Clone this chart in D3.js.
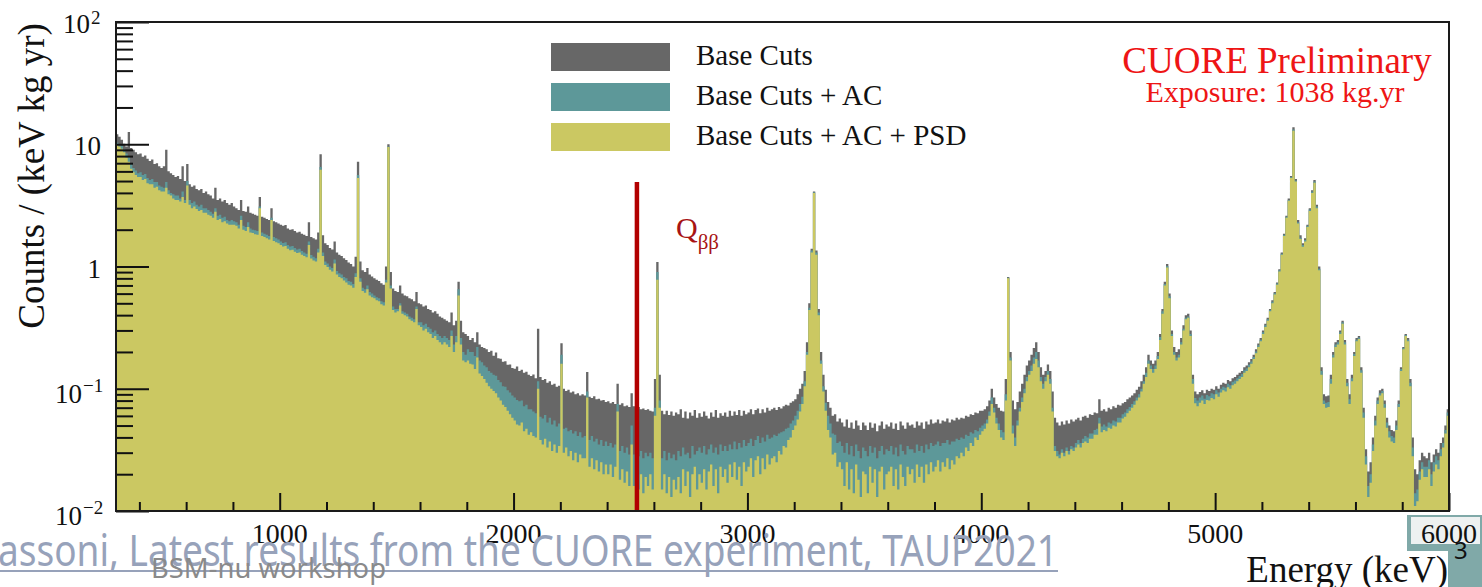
<!DOCTYPE html>
<html>
<head>
<meta charset="utf-8">
<script src="https://cdn.jsdelivr.net/npm/d3@7"></script>
<style>
  html, body { margin: 0; padding: 0; background: #ffffff; }
  svg { display: block; }
</style>
</head>
<body>
<svg id="chart" width="1482" height="587"></svg>
<script>
// Energy binning of the spectra (keV)
const ENERGY_MIN = 300;
const ENERGY_MAX = 6000;
const BIN_WIDTH = 10;

// Counts / (keV kg yr), one value per 10 keV bin starting at 300 keV
const baseCuts = [
  12.1, 11.5, 10.9, 10.1, 9.6, 12.6, 9.3, 9.0, 8.6, 8.3,
  8.4, 7.9, 8.1, 7.6, 7.3, 7.5, 6.9, 7.0, 6.6, 6.4,
  6.6, 9.0, 6.0, 5.8, 5.6, 5.4, 5.5, 5.2, 6.6, 5.0,
  6.9, 4.7, 4.5, 4.6, 4.3, 4.2, 4.3, 4.0, 4.1, 3.9,
  3.8, 3.6, 4.4, 3.5, 3.6, 3.4, 3.5, 3.3, 3.2, 3.3,
  3.1, 3.0, 2.9, 3.5, 2.85, 2.8, 3.1, 2.75, 2.7, 2.65,
  2.6, 3.7, 2.55, 2.5, 2.45, 2.4, 3.0, 2.35, 2.3, 2.25,
  2.2, 2.15, 2.18, 2.05, 2.0, 2.02, 1.95, 1.9, 1.92, 1.85,
  1.82, 1.78, 2.3, 1.74, 1.7, 1.66, 1.9, 8.3, 1.8, 1.55,
  1.5, 1.42, 1.38, 1.6, 1.3, 1.25, 1.22, 1.17, 1.13, 1.08,
  1.05, 1.0, 1.2, 7.2, 1.1, 0.93, 0.9, 0.97, 0.86, 0.83,
  0.8, 0.78, 0.76, 0.73, 0.71, 1.0, 10.0, 0.9, 0.66, 0.63,
  0.62, 0.7, 0.6, 0.58, 0.57, 0.55, 0.54, 0.52, 0.62, 0.5,
  0.49, 0.47, 0.48, 0.45, 0.44, 0.42, 0.43, 0.41, 0.39, 0.38,
  0.37, 0.36, 0.35, 0.42, 0.33, 0.36, 0.75, 0.36, 0.29, 0.28,
  0.27, 0.25, 0.26, 0.24, 0.29, 0.23, 0.22, 0.215, 0.21, 0.2,
  0.205, 0.186, 0.198, 0.178, 0.176, 0.166, 0.168, 0.157, 0.158, 0.148,
  0.146, 0.152, 0.14, 0.143, 0.135, 0.138, 0.13, 0.127, 0.131, 0.122,
  0.31, 0.125, 0.118, 0.12, 0.112, 0.115, 0.108, 0.11, 0.104, 0.106,
  0.236, 0.1, 0.096, 0.098, 0.093, 0.095, 0.09, 0.092, 0.088, 0.09,
  0.088, 0.137, 0.086, 0.084, 0.087, 0.082, 0.083, 0.08, 0.081, 0.078,
  0.079, 0.076, 0.078, 0.075, 0.11, 0.074, 0.076, 0.072, 0.073, 0.071,
  0.092, 0.072, 0.07, 0.071, 0.068, 0.069, 0.067, 0.068, 0.066, 0.065,
  0.12, 1.09, 0.13, 0.066, 0.062, 0.066, 0.061, 0.065, 0.06, 0.064,
  0.062, 0.068, 0.058, 0.065, 0.057, 0.064, 0.06, 0.067, 0.058, 0.063,
  0.059, 0.065, 0.06, 0.057, 0.064, 0.059, 0.067, 0.058, 0.063, 0.06,
  0.064, 0.059, 0.066, 0.06, 0.065, 0.061, 0.067, 0.06, 0.066, 0.062,
  0.064, 0.068, 0.062, 0.067, 0.069, 0.063, 0.068, 0.064, 0.07, 0.066,
  0.068, 0.07, 0.067, 0.071, 0.069, 0.072, 0.074, 0.073, 0.077, 0.079,
  0.082, 0.09, 0.1, 0.11, 0.14, 0.24, 0.5, 1.4, 4.1, 1.35,
  0.45, 0.2, 0.13, 0.098, 0.078, 0.07, 0.06, 0.062, 0.054, 0.057,
  0.053, 0.049, 0.056, 0.048, 0.053, 0.047, 0.055, 0.05, 0.046, 0.053,
  0.05, 0.046, 0.053, 0.048, 0.052, 0.045, 0.05, 0.054, 0.047, 0.051,
  0.049, 0.053, 0.047, 0.052, 0.046, 0.054, 0.05, 0.047, 0.053, 0.05,
  0.051, 0.048, 0.054, 0.05, 0.053, 0.047, 0.054, 0.051, 0.056, 0.052,
  0.053, 0.056, 0.052, 0.055, 0.054, 0.057, 0.053, 0.056, 0.055, 0.058,
  0.056, 0.058, 0.057, 0.06, 0.059, 0.062, 0.061, 0.064, 0.063, 0.066,
  0.066, 0.068, 0.072, 0.08, 0.1, 0.085, 0.075, 0.07, 0.066, 0.065,
  0.12, 0.82, 0.2, 0.08, 0.068, 0.078, 0.095, 0.11, 0.13, 0.155,
  0.17, 0.19, 0.215, 0.24, 0.2, 0.15, 0.13, 0.14, 0.158, 0.14,
  0.095, 0.058, 0.053, 0.05, 0.054, 0.051, 0.055, 0.052, 0.056, 0.054,
  0.056, 0.058, 0.055, 0.059, 0.06, 0.058, 0.062, 0.061, 0.064, 0.063,
  0.082, 0.066, 0.068, 0.065, 0.07, 0.068, 0.072, 0.07, 0.074, 0.073,
  0.076, 0.078, 0.082, 0.085, 0.088, 0.092, 0.098, 0.104, 0.115, 0.13,
  0.15, 0.19, 0.17, 0.16, 0.17, 0.2, 0.28, 0.45, 0.75, 1.05,
  0.6, 0.3, 0.22, 0.2, 0.21, 0.26, 0.33, 0.4, 0.41, 0.3,
  0.13, 0.095, 0.09, 0.094, 0.097, 0.092, 0.098, 0.096, 0.1, 0.098,
  0.105, 0.1, 0.108, 0.112, 0.11, 0.118, 0.115, 0.122, 0.125, 0.13,
  0.135, 0.14, 0.15, 0.155, 0.165, 0.175, 0.19, 0.21, 0.235, 0.26,
  0.3, 0.34, 0.38, 0.45, 0.53, 0.62, 0.74, 0.95, 1.3, 1.85,
  2.6, 3.6, 5.5, 13.8, 5.2, 2.4, 1.8, 1.55, 1.7, 2.2,
  3.0, 4.2, 5.1, 3.2, 1.0, 0.15, 0.09, 0.087, 0.088, 0.13,
  0.2, 0.24, 0.25, 0.3, 0.36, 0.25, 0.12, 0.09, 0.13, 0.2,
  0.26, 0.27, 0.15, 0.07, 0.032, 0.021, 0.025, 0.04, 0.06, 0.085,
  0.097, 0.1, 0.08, 0.058, 0.05, 0.046, 0.045, 0.055, 0.08, 0.15,
  0.22, 0.28, 0.26, 0.12, 0.04, 0.022, 0.02, 0.026, 0.03, 0.028,
  0.027, 0.03, 0.025, 0.029, 0.032, 0.03, 0.036, 0.04, 0.05, 0.068
];

const baseCutsAC = [
  10.3, 10.0, 9.7, 9.1, 8.4, 7.9, 6.9, 6.4, 6.1, 5.8,
  5.9, 5.6, 5.7, 5.3, 5.1, 5.2, 4.9, 4.9, 4.6, 4.5,
  4.4, 4.9, 4.2, 4.0, 3.9, 3.8, 3.8, 3.6, 4.1, 3.5,
  5.0, 3.5, 3.3, 3.4, 3.2, 3.1, 3.2, 3.0, 3.0, 2.9,
  2.8, 2.7, 3.0, 2.6, 2.65, 2.5, 2.55, 2.4, 2.35, 2.4,
  2.35, 2.3, 2.2, 2.6, 2.15, 2.1, 2.3, 2.05, 2.0, 1.98,
  1.95, 3.1, 1.9, 1.85, 1.82, 1.78, 2.5, 1.74, 1.7, 1.66,
  1.6, 1.56, 1.58, 1.5, 1.46, 1.47, 1.42, 1.38, 1.4, 1.34,
  1.3, 1.27, 1.6, 1.24, 1.2, 1.17, 1.4, 6.5, 1.3, 1.1,
  1.06, 1.0, 0.97, 1.14, 0.92, 0.88, 0.86, 0.82, 0.8, 0.76,
  0.75, 0.72, 0.88, 5.6, 0.8, 0.67, 0.65, 0.7, 0.62, 0.6,
  0.58, 0.56, 0.55, 0.52, 0.51, 0.78, 9.6, 0.7, 0.47, 0.45,
  0.45, 0.5, 0.43, 0.42, 0.41, 0.39, 0.38, 0.37, 0.47, 0.35,
  0.35, 0.33, 0.34, 0.32, 0.31, 0.29, 0.3, 0.28, 0.27, 0.26,
  0.27, 0.26, 0.25, 0.3, 0.23, 0.27, 0.65, 0.26, 0.2, 0.19,
  0.21, 0.2, 0.2, 0.185, 0.22, 0.17, 0.165, 0.155, 0.15, 0.14,
  0.135, 0.13, 0.128, 0.118, 0.113, 0.105, 0.104, 0.097, 0.093, 0.088,
  0.085, 0.081, 0.079, 0.08, 0.072, 0.074, 0.068, 0.068, 0.065, 0.063,
  0.115, 0.059, 0.057, 0.061, 0.053, 0.058, 0.051, 0.055, 0.049, 0.052,
  0.19, 0.047, 0.048, 0.045, 0.046, 0.043, 0.045, 0.041, 0.044, 0.04,
  0.041, 0.095, 0.038, 0.041, 0.037, 0.039, 0.035, 0.038, 0.034, 0.037,
  0.034, 0.036, 0.033, 0.035, 0.075, 0.031, 0.034, 0.03, 0.033, 0.029,
  0.05, 0.029, 0.032, 0.028, 0.031, 0.027, 0.03, 0.028, 0.03, 0.027,
  0.07, 0.9, 0.08, 0.027, 0.031, 0.026, 0.03, 0.027, 0.029, 0.026,
  0.031, 0.028, 0.033, 0.029, 0.03, 0.027, 0.034, 0.029, 0.031, 0.033,
  0.03, 0.034, 0.029, 0.032, 0.035, 0.03, 0.033, 0.029, 0.035, 0.031,
  0.034, 0.031, 0.035, 0.032, 0.037, 0.032, 0.036, 0.033, 0.038, 0.034,
  0.036, 0.039, 0.034, 0.038, 0.041, 0.036, 0.04, 0.037, 0.042, 0.039,
  0.04, 0.042, 0.041, 0.043, 0.044, 0.045, 0.047, 0.048, 0.052, 0.055,
  0.06, 0.066, 0.075, 0.086, 0.115, 0.2, 0.46, 1.35, 4.05, 1.3,
  0.42, 0.17, 0.105, 0.077, 0.06, 0.052, 0.043, 0.042, 0.036, 0.037,
  0.034, 0.03, 0.036, 0.029, 0.034, 0.028, 0.035, 0.031, 0.027, 0.033,
  0.031, 0.028, 0.034, 0.03, 0.033, 0.027, 0.031, 0.034, 0.029, 0.032,
  0.031, 0.034, 0.029, 0.033, 0.028, 0.035, 0.031, 0.029, 0.034, 0.032,
  0.032, 0.03, 0.035, 0.031, 0.034, 0.03, 0.035, 0.032, 0.036, 0.034,
  0.035, 0.037, 0.034, 0.036, 0.036, 0.038, 0.035, 0.037, 0.037, 0.039,
  0.038, 0.04, 0.039, 0.042, 0.041, 0.044, 0.043, 0.046, 0.045, 0.048,
  0.05, 0.052, 0.056, 0.065, 0.085, 0.07, 0.058, 0.052, 0.046, 0.044,
  0.09, 0.81, 0.18, 0.05, 0.04, 0.055, 0.07, 0.085, 0.1, 0.125,
  0.14, 0.155, 0.18, 0.2, 0.17, 0.125, 0.11, 0.125, 0.14, 0.12,
  0.07, 0.034, 0.031, 0.029, 0.032, 0.03, 0.033, 0.031, 0.034, 0.033,
  0.036, 0.038, 0.036, 0.039, 0.041, 0.04, 0.043, 0.043, 0.046, 0.047,
  0.058, 0.049, 0.051, 0.049, 0.053, 0.052, 0.055, 0.054, 0.058, 0.058,
  0.062, 0.064, 0.068, 0.071, 0.075, 0.079, 0.085, 0.09, 0.1, 0.115,
  0.135, 0.17, 0.155, 0.145, 0.155, 0.185, 0.265, 0.43, 0.72, 1.01,
  0.57, 0.28, 0.2, 0.18, 0.19, 0.24, 0.31, 0.38, 0.39, 0.28,
  0.12, 0.084, 0.08, 0.085, 0.088, 0.083, 0.089, 0.087, 0.092, 0.09,
  0.097, 0.093, 0.1, 0.104, 0.102, 0.11, 0.107, 0.114, 0.117, 0.122,
  0.127, 0.132, 0.142, 0.147, 0.157, 0.167, 0.182, 0.202, 0.227, 0.252,
  0.29, 0.33, 0.37, 0.44, 0.515, 0.605, 0.725, 0.93, 1.27, 1.82,
  2.55, 3.5, 5.4, 13.2, 5.05, 2.3, 1.72, 1.5, 1.65, 2.15,
  2.92, 4.1, 4.95, 3.1, 0.96, 0.14, 0.08, 0.077, 0.078, 0.12,
  0.19, 0.23, 0.24, 0.29, 0.35, 0.24, 0.112, 0.082, 0.122, 0.192,
  0.252, 0.262, 0.142, 0.064, 0.028, 0.016, 0.02, 0.035, 0.055, 0.08,
  0.092, 0.096, 0.075, 0.053, 0.045, 0.041, 0.04, 0.05, 0.075, 0.145,
  0.215, 0.275, 0.252, 0.112, 0.033, 0.014, 0.015, 0.021, 0.025, 0.023,
  0.023, 0.026, 0.02, 0.025, 0.028, 0.026, 0.032, 0.036, 0.046, 0.064
];

const baseCutsACPSD = [
  9.9, 9.6, 9.2, 8.6, 7.8, 7.2, 6.3, 5.9, 5.6, 5.4,
  5.4, 5.1, 5.2, 4.8, 4.7, 4.7, 4.4, 4.5, 4.2, 4.1,
  4.1, 4.4, 3.9, 3.8, 3.6, 3.5, 3.5, 3.4, 3.7, 3.3,
  4.6, 3.2, 3.0, 3.1, 2.95, 2.85, 2.9, 2.75, 2.75, 2.65,
  2.6, 2.5, 2.8, 2.4, 2.45, 2.3, 2.35, 2.25, 2.2, 2.2,
  2.2, 2.15, 2.05, 2.4, 2.0, 1.95, 2.1, 1.9, 1.88, 1.84,
  1.82, 3.0, 1.78, 1.74, 1.7, 1.66, 2.4, 1.62, 1.58, 1.55,
  1.5, 1.46, 1.47, 1.4, 1.36, 1.37, 1.32, 1.29, 1.3, 1.25,
  1.22, 1.19, 1.5, 1.16, 1.12, 1.1, 1.3, 6.2, 1.22, 1.03,
  0.99, 0.94, 0.91, 1.06, 0.86, 0.82, 0.8, 0.77, 0.74, 0.71,
  0.7, 0.67, 0.82, 5.3, 0.75, 0.63, 0.61, 0.65, 0.58, 0.56,
  0.55, 0.53, 0.52, 0.49, 0.48, 0.74, 9.5, 0.66, 0.44, 0.42,
  0.43, 0.48, 0.41, 0.4, 0.39, 0.37, 0.36, 0.35, 0.45, 0.33,
  0.32, 0.3, 0.31, 0.29, 0.28, 0.26, 0.27, 0.25, 0.24, 0.23,
  0.24, 0.23, 0.22, 0.27, 0.2, 0.24, 0.58, 0.23, 0.17, 0.165,
  0.17, 0.16, 0.158, 0.145, 0.18, 0.133, 0.127, 0.12, 0.112, 0.105,
  0.1, 0.096, 0.092, 0.085, 0.08, 0.074, 0.071, 0.066, 0.062, 0.058,
  0.055, 0.051, 0.05, 0.053, 0.045, 0.047, 0.042, 0.044, 0.041, 0.04,
  0.1, 0.038, 0.035, 0.039, 0.033, 0.037, 0.031, 0.035, 0.03, 0.034,
  0.16, 0.03, 0.033, 0.028, 0.031, 0.026, 0.03, 0.025, 0.029, 0.027,
  0.027, 0.085, 0.023, 0.027, 0.022, 0.026, 0.021, 0.025, 0.02, 0.024,
  0.02, 0.024, 0.019, 0.023, 0.065, 0.018, 0.022, 0.017, 0.021, 0.016,
  0.035, 0.016, 0.021, 0.015, 0.02, 0.014, 0.019, 0.016, 0.02, 0.015,
  0.06, 0.78, 0.07, 0.015, 0.02, 0.014, 0.019, 0.013, 0.018, 0.015,
  0.019, 0.014, 0.022, 0.016, 0.021, 0.013, 0.02, 0.023, 0.015, 0.02,
  0.017, 0.022, 0.015, 0.021, 0.024, 0.016, 0.022, 0.014, 0.023, 0.019,
  0.022, 0.017, 0.024, 0.019, 0.025, 0.018, 0.023, 0.016, 0.025, 0.021,
  0.023, 0.027, 0.019, 0.026, 0.028, 0.02, 0.027, 0.022, 0.029, 0.024,
  0.027, 0.028, 0.025, 0.031, 0.029, 0.034, 0.033, 0.038, 0.04, 0.046,
  0.05, 0.056, 0.065, 0.075, 0.105, 0.19, 0.44, 1.3, 4.0, 1.25,
  0.4, 0.16, 0.095, 0.066, 0.046, 0.04, 0.029, 0.03, 0.023, 0.025,
  0.022, 0.016, 0.025, 0.015, 0.022, 0.014, 0.024, 0.018, 0.013, 0.021,
  0.02, 0.014, 0.023, 0.017, 0.022, 0.013, 0.021, 0.023, 0.015, 0.02,
  0.021, 0.023, 0.016, 0.022, 0.015, 0.024, 0.019, 0.016, 0.023, 0.02,
  0.022, 0.017, 0.024, 0.019, 0.023, 0.017, 0.024, 0.02, 0.025, 0.021,
  0.023, 0.026, 0.021, 0.025, 0.023, 0.027, 0.022, 0.026, 0.024, 0.028,
  0.027, 0.03, 0.028, 0.033, 0.031, 0.036, 0.034, 0.04, 0.038, 0.042,
  0.045, 0.047, 0.052, 0.06, 0.075, 0.064, 0.052, 0.046, 0.04, 0.038,
  0.08, 0.8, 0.17, 0.043, 0.034, 0.05, 0.065, 0.078, 0.092, 0.115,
  0.13, 0.14, 0.16, 0.175, 0.15, 0.115, 0.1, 0.115, 0.13, 0.11,
  0.065, 0.031, 0.028, 0.027, 0.03, 0.028, 0.031, 0.029, 0.032, 0.031,
  0.033, 0.035, 0.033, 0.036, 0.037, 0.036, 0.039, 0.039, 0.042, 0.042,
  0.052, 0.044, 0.046, 0.045, 0.048, 0.047, 0.05, 0.049, 0.053, 0.053,
  0.057, 0.059, 0.063, 0.066, 0.07, 0.074, 0.08, 0.085, 0.095, 0.11,
  0.125, 0.16, 0.145, 0.135, 0.145, 0.175, 0.25, 0.41, 0.7, 0.98,
  0.55, 0.27, 0.19, 0.17, 0.18, 0.23, 0.3, 0.37, 0.38, 0.27,
  0.11, 0.076, 0.072, 0.077, 0.08, 0.075, 0.081, 0.08, 0.084, 0.082,
  0.09, 0.086, 0.093, 0.097, 0.095, 0.103, 0.1, 0.107, 0.11, 0.115,
  0.12, 0.125, 0.135, 0.14, 0.15, 0.16, 0.175, 0.195, 0.22, 0.245,
  0.28, 0.32, 0.36, 0.43, 0.5, 0.59, 0.71, 0.91, 1.25, 1.78,
  2.5, 3.45, 5.3, 12.9, 4.95, 2.25, 1.68, 1.45, 1.6, 2.1,
  2.85, 4.0, 4.85, 3.0, 0.93, 0.13, 0.075, 0.07, 0.071, 0.11,
  0.18, 0.22, 0.23, 0.28, 0.34, 0.23, 0.105, 0.075, 0.115, 0.185,
  0.245, 0.255, 0.135, 0.058, 0.024, 0.013, 0.017, 0.031, 0.05, 0.075,
  0.088, 0.092, 0.07, 0.048, 0.04, 0.037, 0.036, 0.046, 0.071, 0.14,
  0.21, 0.27, 0.245, 0.105, 0.028, 0.011, 0.012, 0.018, 0.022, 0.019,
  0.019, 0.022, 0.016, 0.021, 0.024, 0.022, 0.028, 0.033, 0.043, 0.06
];

const seriesNames = ["Base Cuts", "Base Cuts + AC", "Base Cuts + AC + PSD"];
const seriesColors = ["#676767", "#5d9899", "#cbc862"];

// Axis ticks
const xMajorTicks = [1000, 2000, 3000, 4000, 5000, 6000];
const xTickLabels = ["1000", "2000", "3000", "4000", "5000", "6000"];
const xMinorTicks = [400, 600, 800, 1200, 1400, 1600, 1800, 2200, 2400, 2600, 2800,
  3200, 3400, 3600, 3800, 4200, 4400, 4600, 4800, 5200, 5400, 5600, 5800];
const yMajorTicks = [1e-2, 1e-1, 1, 10, 100];
const yTickBase = ["10", "10", "1", "10", "10"];
const yTickExponent = ["\u22122", "\u22121", "", "", "2"];
const yMinorTicks = [2, 3, 4, 5, 6, 7, 8, 9].flatMap(m => [1e-2, 1e-1, 1, 10].map(d => m * d));

// Q-value of 130Te double beta decay (keV)
const qBetaBeta = 2527.5;

const serif = "'Liberation Serif', 'Times New Roman', serif";
const sans = "'Noto Sans', 'Open Sans', sans-serif";

const svg = d3.select("#chart");
const plot = { left: 116, right: 1449, top: 22, bottom: 511 };

const x = d3.scaleLinear().domain([ENERGY_MIN, ENERGY_MAX]).range([plot.left, plot.right]);
const y = d3.scaleLog().domain([1e-2, 1e2]).range([plot.bottom, plot.top]).clamp(true);

svg.append("defs").append("clipPath").attr("id", "plot-clip")
  .append("rect")
  .attr("x", plot.left).attr("y", plot.top)
  .attr("width", plot.right - plot.left).attr("height", plot.bottom - plot.top);

// Histogram bins -> step points (last bin closed at the upper edge)
function binPoints(values) {
  const pts = values.map((v, i) => ({ e: ENERGY_MIN + i * BIN_WIDTH, v }));
  pts.push({ e: ENERGY_MIN + values.length * BIN_WIDTH, v: values[values.length - 1] });
  return pts;
}

const area = d3.area()
  .curve(d3.curveStepAfter)
  .x(d => x(d.e))
  .y0(y(1e-2))
  .y1(d => y(d.v));

const series = [baseCuts, baseCutsAC, baseCutsACPSD].map((values, i) => ({
  name: seriesNames[i], color: seriesColors[i], values
}));

svg.append("g").attr("clip-path", "url(#plot-clip)")
  .selectAll("path.spectrum")
  .data(series)
  .join("path")
  .attr("class", "spectrum")
  .attr("fill", d => d.color)
  .attr("stroke", "none")
  .attr("d", d => area(binPoints(d.values)));

// Qββ marker
svg.append("line")
  .attr("x1", x(qBetaBeta)).attr("x2", x(qBetaBeta))
  .attr("y1", 182).attr("y2", plot.bottom)
  .attr("stroke", "#b20000").attr("stroke-width", 4.5);

const qLabel = svg.append("text")
  .attr("x", 676).attr("y", 238)
  .attr("font-family", serif).attr("font-size", 30)
  .attr("fill", "#a81414");
qLabel.append("tspan").text("Q");
qLabel.append("tspan").attr("font-size", 21).attr("dy", 11).text("\u03b2\u03b2");

// Axes with inward ticks
function styleAxis(g) {
  g.select(".domain").remove();
  g.selectAll(".tick line").attr("stroke", "#111").attr("stroke-width", 2);
  g.selectAll(".tick text").remove();
}

svg.append("g").attr("transform", `translate(0,${plot.bottom})`)
  .call(d3.axisBottom(x).tickValues(xMinorTicks).tickSize(-9).tickFormat(""))
  .call(styleAxis);
svg.append("g").attr("transform", `translate(0,${plot.bottom})`)
  .call(d3.axisBottom(x).tickValues(xMajorTicks).tickSize(-18).tickFormat(""))
  .call(styleAxis);
svg.append("g").attr("transform", `translate(${plot.left},0)`)
  .call(d3.axisLeft(y).tickValues(yMinorTicks).tickSize(-17).tickFormat(""))
  .call(styleAxis);
svg.append("g").attr("transform", `translate(${plot.left},0)`)
  .call(d3.axisLeft(y).tickValues(yMajorTicks).tickSize(-33).tickFormat(""))
  .call(styleAxis);

// Frame
svg.append("rect")
  .attr("x", plot.left).attr("y", plot.top)
  .attr("width", plot.right - plot.left).attr("height", plot.bottom - plot.top)
  .attr("fill", "none").attr("stroke", "#1a1a1a").attr("stroke-width", 2);

// X tick labels
svg.append("g").selectAll("text")
  .data(xMajorTicks)
  .join("text")
  .attr("x", d => x(d)).attr("y", 543)
  .attr("text-anchor", "middle")
  .attr("font-family", serif).attr("font-size", 28).attr("fill", "#111")
  .text((d, i) => xTickLabels[i]);

// Y tick labels (powers of ten)
svg.append("g").selectAll("text")
  .data(yMajorTicks)
  .join("text")
  .attr("x", (d, i) => yTickExponent[i] === "" ? 101 : (yTickExponent[i].length > 1 ? 82 : 90))
  .attr("y", (d, i) => y(d) + (yTickExponent[i].startsWith("\u2212") ? 14 : 11))
  .attr("text-anchor", "end")
  .attr("font-family", serif).attr("font-size", 27).attr("fill", "#111")
  .text((d, i) => yTickBase[i]);
svg.append("g").selectAll("text")
  .data(yMajorTicks.filter((d, i) => yTickExponent[i] !== ""))
  .join("text")
  .attr("x", d => yTickExponent[yMajorTicks.indexOf(d)].length > 1 ? 83 : 91)
  .attr("y", d => y(d) + (yTickExponent[yMajorTicks.indexOf(d)].startsWith("\u2212") ? 3 : 2))
  .attr("font-family", serif).attr("font-size", 19).attr("fill", "#111")
  .text(d => yTickExponent[yMajorTicks.indexOf(d)]);

// Axis titles
svg.append("text")
  .attr("transform", "translate(44,176) rotate(-90)")
  .attr("text-anchor", "middle")
  .attr("font-family", serif).attr("font-size", 37).attr("fill", "#111")
  .text("Counts / (keV kg yr)");

// Legend
const legend = svg.append("g").selectAll("g")
  .data(series)
  .join("g")
  .attr("transform", (d, i) => `translate(551,${43 + i * 40})`);
legend.append("rect")
  .attr("width", 119).attr("height", 28)
  .attr("fill", d => d.color);
legend.append("text")
  .attr("x", 145).attr("y", 22)
  .attr("font-family", serif).attr("font-size", 29).attr("fill", "#111")
  .text(d => d.name);

// Experiment label
svg.append("text")
  .attr("x", 1277).attr("y", 73)
  .attr("text-anchor", "middle")
  .attr("font-family", serif).attr("font-size", 37).attr("fill", "#ee1515")
  .text("CUORE Preliminary");
svg.append("text")
  .attr("x", 1275).attr("y", 102)
  .attr("text-anchor", "middle")
  .attr("font-family", serif).attr("font-size", 30).attr("fill", "#ee1515")
  .text("Exposure: 1038 kg.yr");

// Slide footer
svg.append("rect").attr("x", 1407).attr("y", 515).attr("width", 75).attr("height", 36).attr("fill", "#80a9a8");
svg.append("rect").attr("x", 1448).attr("y", 515).attr("width", 34).attr("height", 72).attr("fill", "#80a9a8");
svg.append("rect").attr("x", 1411).attr("y", 517).attr("width", 69).attr("height", 27).attr("fill", "#eef1f1");

svg.append("text")
  .attr("x", x(6000)).attr("y", 543)
  .attr("text-anchor", "middle")
  .attr("font-family", serif).attr("font-size", 28).attr("fill", "#111")
  .text(xTickLabels[xTickLabels.length - 1]);

svg.append("text")
  .attr("x", 1448).attr("y", 582)
  .attr("text-anchor", "end")
  .attr("font-family", serif).attr("font-size", 37).attr("fill", "#111")
  .text("Energy (keV)");

svg.append("text")
  .attr("x", -2).attr("y", 566)
  .attr("font-family", sans).attr("font-size", 43).attr("fill", "#97a2ba")
  .attr("textLength", 1060).attr("lengthAdjust", "spacingAndGlyphs")
  .text("assoni,  Latest results from the CUORE experiment, TAUP2021");
svg.append("line")
  .attr("x1", 0).attr("x2", 1058).attr("y1", 571).attr("y2", 571)
  .attr("stroke", "#97a2ba").attr("stroke-width", 2);

svg.append("text")
  .attr("x", 151).attr("y", 578)
  .attr("font-family", sans).attr("font-size", 27).attr("fill", "#8a8a8a")
  .attr("textLength", 235).attr("lengthAdjust", "spacingAndGlyphs")
  .text("BSM-nu workshop");

svg.append("text")
  .attr("x", 1454).attr("y", 559)
  .attr("font-family", sans).attr("font-size", 24).attr("fill", "#111")
  .text("3");
</script>
</body>
</html>
